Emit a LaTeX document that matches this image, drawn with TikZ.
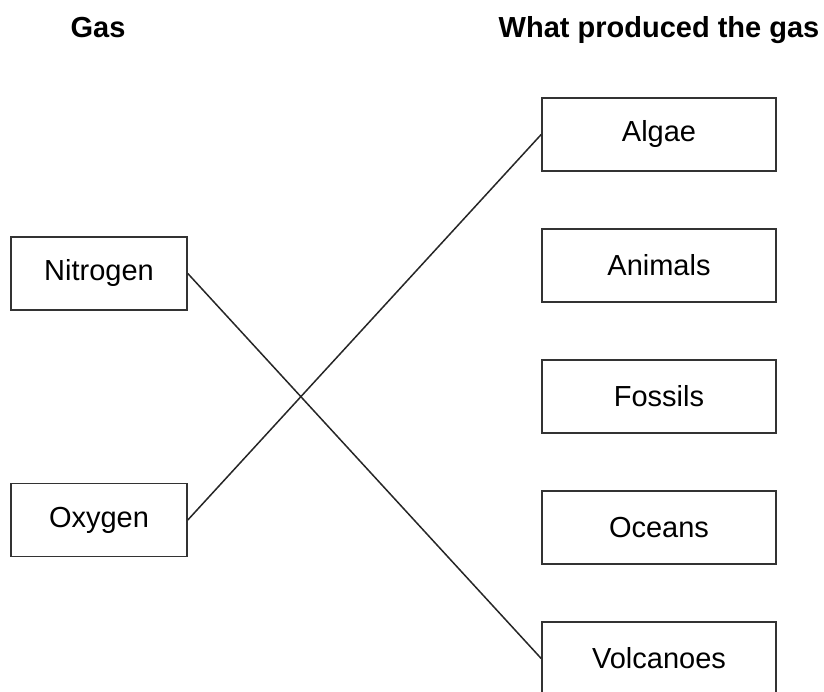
\documentclass[tikz,border=0pt]{standalone}
\usepackage{fontspec}
\setmainfont{Liberation Sans}
\begin{document}
\begin{tikzpicture}[x=1pt,y=-1pt,
  box/.style={draw=black!80,line width=1.6pt,minimum width=234pt,minimum height=73pt,inner sep=0pt,font=\fontsize{29}{32}\selectfont},
  lbox/.style={box,minimum width=176pt},
  head/.style={anchor=base,font=\fontsize{29}{32}\selectfont\bfseries},
  link/.style={draw=black!85,line width=1.5pt}]
\useasboundingbox (0,0) rectangle (824,692);
\clip (0,0) rectangle (824,692);
\node[head] (h1) at (98,38) {Gas};
\node[head] (h2) at (659,38) {What produced the gas};
\node[lbox] (nit) at (99,273.5) {Nitrogen};
\node[lbox] (oxy) at (99,520) {Oxygen};
\node[box] (alg) at (659,134.5) {Algae};
\node[box] (ani) at (659,265.5) {Animals};
\node[box] (fos) at (659,396.5) {Fossils};
\node[box] (oce) at (659,527.5) {Oceans};
\node[box] (vol) at (659,658.5) {Volcanoes};
\draw[link] (nit.east) -- (vol.west);
\draw[link] (oxy.east) -- (alg.west);
\end{tikzpicture}
\end{document}
